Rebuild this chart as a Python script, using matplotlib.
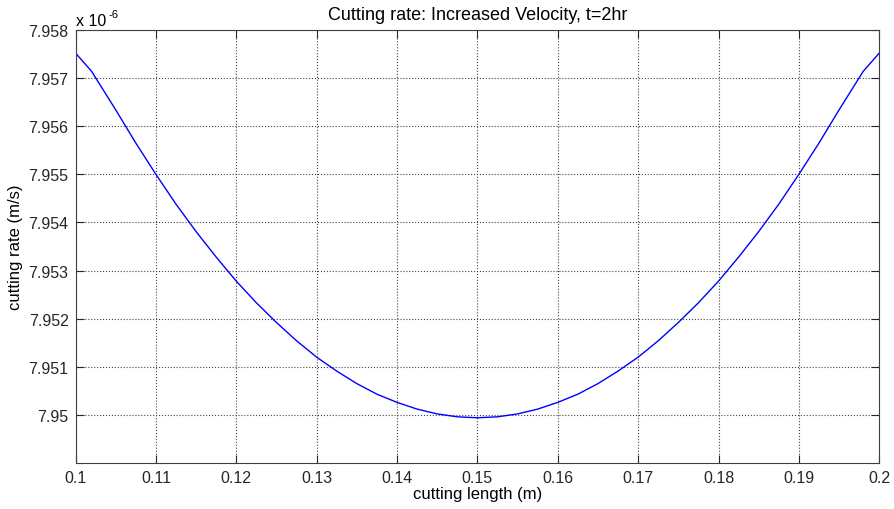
import numpy as np
import matplotlib
matplotlib.use('Agg')
import matplotlib.pyplot as plt

plt.rcParams['font.family'] = ['Liberation Sans', 'DejaVu Sans']

# cutting length (m) and cutting rate (x 1e-6 m/s)
length = [0.1, 0.102, 0.105, 0.1075, 0.11, 0.1125, 0.115, 0.1175, 0.12, 0.1225,
          0.125, 0.1275, 0.13, 0.1325, 0.135, 0.1375, 0.14, 0.1425, 0.145, 0.1475,
          0.15,
          0.1525, 0.155, 0.1575, 0.16, 0.1625, 0.165, 0.1675, 0.17, 0.1725, 0.175,
          0.1775, 0.18, 0.1825, 0.185, 0.1875, 0.19, 0.1925, 0.195, 0.198, 0.2]
rate = [7.95752, 7.95714, 7.95634, 7.95565, 7.95500, 7.95438, 7.95381, 7.95328, 7.95278, 7.95233,
        7.95192, 7.95154, 7.95120, 7.95091, 7.95065, 7.95043, 7.95026, 7.95012, 7.95002, 7.94996,
        7.94994,
        7.94996, 7.95002, 7.95012, 7.95026, 7.95043, 7.95065, 7.95091, 7.95120, 7.95154, 7.95192,
        7.95233, 7.95278, 7.95328, 7.95381, 7.95438, 7.95500, 7.95565, 7.95634, 7.95714, 7.95752]

xticks = [0.1, 0.11, 0.12, 0.13, 0.14, 0.15, 0.16, 0.17, 0.18, 0.19, 0.2]
xlabels = ['0.1', '0.11', '0.12', '0.13', '0.14', '0.15', '0.16', '0.17', '0.18', '0.19', '0.2']
yticks = [7.95, 7.951, 7.952, 7.953, 7.954, 7.955, 7.956, 7.957, 7.958]
ylabels = ['7.95', '7.951', '7.952', '7.953', '7.954', '7.955', '7.956', '7.957', '7.958']

fig = plt.figure(figsize=(8.94, 5.10), dpi=100)
ax = fig.add_axes([0.0845, 0.0902, 0.899, 0.849])

ax.plot(length, rate, color='#0000ff', lw=1.0)

ax.set_xlim(0.1, 0.2)
ax.set_ylim(7.949, 7.958)
ax.set_xticks(xticks)
ax.set_xticklabels(xlabels)
ax.set_yticks(yticks)
ax.set_yticklabels(ylabels)

ax.grid(True, linestyle=':', color='#444444', lw=0.8)
ax.tick_params(direction='in', length=6, width=0.8, top=True, right=True,
               labelsize=11.5, colors='#262626', pad=5)
for s in ax.spines.values():
    s.set_linewidth(0.8)
    s.set_color('#404040')

ax.set_title('Cutting rate: Increased Velocity, t=2hr', fontsize=13, pad=8)
ax.set_xlabel('cutting length (m)', fontsize=12, labelpad=1)
ax.set_ylabel('cutting rate (m/s)', fontsize=12, labelpad=4)

# MATLAB-style exponent label above the y axis
ax.text(0.0, 1.004, 'x 10', transform=ax.transAxes, fontsize=11.5,
        ha='left', va='bottom')
ax.annotate('-6', xy=(0.0, 1.004), xycoords='axes fraction', xytext=(24, 7),
            textcoords='offset points', fontsize=8, ha='left', va='bottom')

fig.savefig('out.png', dpi=100)
